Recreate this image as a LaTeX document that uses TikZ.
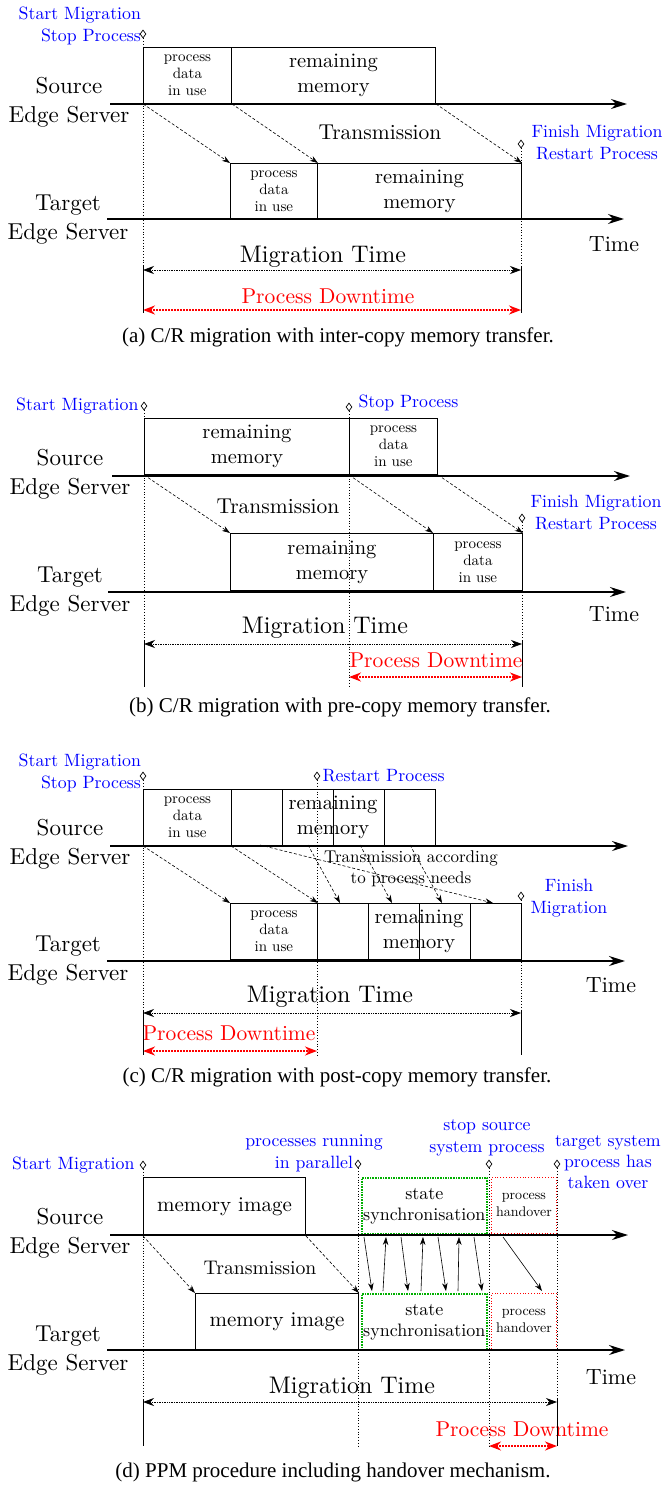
\documentclass[tikz,border=0pt]{standalone}
\usepackage{fontspec}
\setmainfont{lmroman10-regular.otf}
\newfontfamily\capfont{Liberation Serif}
\usetikzlibrary{arrows.meta,shapes.geometric}
\definecolor{syncgreen}{RGB}{0,175,0}
\tikzset{
  sz/.style 2 args={minimum width=#1, minimum height=#2},
  box/.style={draw, line width=0.9pt, inner sep=0pt, anchor=north west, align=center},
  big/.style={font=\fontsize{20.5}{25}\selectfont},
  small/.style={font=\fontsize{15}{17}\selectfont},
  srv/.style={font=\fontsize{23}{29}\selectfont, align=center},
  evt/.style={text=blue, font=\fontsize{17.8}{22}\selectfont},
  dmd/.style={diamond, draw, line width=0.7pt, inner sep=0pt, minimum width=6pt, minimum height=8pt},
  axis/.style={line width=1.4pt, -{Stealth[length=16pt,width=10pt]}},
  tx/.style={densely dashed, line width=0.6pt, -{Stealth[length=8pt,width=5.5pt]}},
  sx/.style={line width=0.6pt, -{Stealth[length=8pt,width=5.5pt]}},
  vdot/.style={dotted, line width=0.8pt},
  vsolid/.style={line width=0.8pt},
  mig/.style={densely dotted, line width=0.7pt, {Stealth[length=11pt,width=8pt]}-{Stealth[length=11pt,width=8pt]}},
  dwn/.style={red, densely dotted, line width=2pt, {Stealth[length=12pt,width=9pt]}-{Stealth[length=12pt,width=9pt]}},
  trans/.style={font=\fontsize{21.5}{26}\selectfont},
  timel/.style={font=\fontsize{22}{26}\selectfont},
  migl/.style={font=\fontsize{24}{28}\selectfont},
  dtl/.style={text=red, font=\fontsize{21.5}{25}\selectfont},
  capt/.style={font=\capfont\fontsize{21}{25}\selectfont},
  syncbox/.style={draw=syncgreen, densely dotted, line width=1.6pt, inner sep=0pt, anchor=north west, align=center, font=\fontsize{18}{21}\selectfont},
  hobox/.style={draw=red, dotted, line width=0.8pt, inner sep=0pt, anchor=north west, align=center, font=\fontsize{14}{17}\selectfont},
}
\begin{document}
\begin{tikzpicture}[x=1pt,y=-1pt]
\useasboundingbox (0,0) rectangle (668,1485);
% ================= (a) =================
\node[srv] (a-src) at (69,102.5) {Source\\Edge Server};
\node[srv] (a-tgt) at (68,219.5) {Target\\Edge Server};
\coordinate (a-s0) at (110,104); \coordinate (a-s1) at (627,104);
\coordinate (a-t0) at (107,219); \coordinate (a-t1) at (624,219);
\node[box, small, sz={88}{56}] (a-sp) at (143,47) {process\\data\\in use};
\node[box, big, sz={204}{56}] (a-sr) at (231,47) {remaining\\memory};
\node[box, small, sz={87}{56}] (a-tp) at (230,163) {process\\data\\in use};
\node[box, big, sz={204}{56}] (a-tr) at (317,163) {remaining\\memory};
\draw[axis] (a-s0) -- (a-s1);
\draw[axis] (a-t0) -- (a-t1);
\draw[tx] (a-sp.south west) -- (a-tp.north west);
\draw[tx] (a-sp.south east) -- (a-tp.north east);
\draw[tx] (a-sr.south east) -- (a-tr.north east);
\node[trans] (a-tx) at (380,132) {Transmission};
\node[evt, align=right, anchor=east] (a-e1) at (144.5,26) {Start Migration\\Stop Process};
\node[dmd] (a-d1) at (143,34) {};
\node[dmd] (a-d2) at (521,144) {};
\node[evt, align=center] (a-e2) at (597,143) {Finish Migration\\Restart Process};
\node[timel] (a-time) at (614,244) {Time};
\node[migl] (a-mt) at (323,257) {Migration Time};
\coordinate (a-m0) at (143,270); \coordinate (a-m1) at (521,270);
\coordinate (a-v0) at (143,266); \coordinate (a-v1) at (521,266);
\draw[mig] (a-m0) -- (a-m1);
\node[dtl] (a-dt) at (328,296) {Process Downtime};
\coordinate (a-p0) at (143,310); \coordinate (a-p1) at (521,310);
\draw[dwn] (a-p0) -- (a-p1);
\coordinate (a-b0) at (143,313); \coordinate (a-b1) at (521,313);
\draw[vdot] (a-d1.south) -- (a-v0);
\draw[vsolid] (a-v0) -- (a-b0);
\draw[vdot] (a-d2.south) -- (a-v1);
\draw[vsolid] (a-v1) -- (a-b1);
\node[capt] (a-cap) at (338,337) {(a) C/R migration with inter-copy memory transfer.};
% ================= (b) =================
\node[srv] (b-src) at (70,474.5) {Source\\Edge Server};
\node[srv] (b-tgt) at (70,592) {Target\\Edge Server};
\coordinate (b-s0) at (112,476); \coordinate (b-s1) at (630,476);
\coordinate (b-t0) at (108,592); \coordinate (b-t1) at (626,592);
\node[box, big, sz={205}{56}] (b-sr) at (144,418) {remaining\\memory};
\node[box, small, sz={88}{56}] (b-sp) at (349,418) {process\\data\\in use};
\node[box, big, sz={203}{57}] (b-tr) at (230,533) {remaining\\memory};
\node[box, small, sz={89}{57}] (b-tp) at (433,533) {process\\data\\in use};
\draw[axis] (b-s0) -- (b-s1);
\draw[axis] (b-t0) -- (b-t1);
\draw[tx] (b-sr.south west) -- (b-tr.north west);
\draw[tx] (b-sp.south west) -- (b-tp.north west);
\draw[tx] (b-sp.south east) -- (b-tp.north east);
\node[trans] (b-tx) at (278,506) {Transmission};
\node[evt, anchor=east] (b-e1) at (142,406) {Start Migration};
\node[dmd] (b-d1) at (144,406) {};
\node[dmd] (b-d2) at (349,407) {};
\node[evt, anchor=west] (b-e2) at (355,403) {Stop Process};
\node[dmd] (b-d3) at (522,518) {};
\node[evt, align=center] (b-e3) at (596,513) {Finish Migration\\Restart Process};
\node[timel] (b-time) at (614,614) {Time};
\node[migl] (b-mt) at (325,628) {Migration Time};
\coordinate (b-m0) at (144,644); \coordinate (b-m1) at (522,644);
\coordinate (b-v0) at (144,641); \coordinate (b-v1) at (522,641);
\draw[mig] (b-m0) -- (b-m1);
\node[dtl] (b-dt) at (436,660) {Process Downtime};
\coordinate (b-p0) at (349,677); \coordinate (b-p1) at (522,677);
\draw[dwn] (b-p0) -- (b-p1);
\coordinate (b-b0) at (144,687); \coordinate (b-b1) at (522,687); \coordinate (b-b2) at (349,687);
\draw[vdot] (b-d1.south) -- (b-v0);
\draw[vsolid] (b-v0) -- (b-b0);
\draw[vdot] (b-d3.south) -- (b-v1);
\draw[vsolid] (b-v1) -- (b-b1);
\draw[vdot] (b-d2.south) -- (b-b2);
\node[capt] (b-cap) at (340,707) {(b) C/R migration with pre-copy memory transfer.};
% ================= (c) =================
\node[srv] (c-src) at (70,844) {Source\\Edge Server};
\node[srv] (c-tgt) at (68,961) {Target\\Edge Server};
\coordinate (c-s0) at (110,846); \coordinate (c-s1) at (628,846);
\coordinate (c-t0) at (107,961); \coordinate (c-t1) at (625,961);
\node[box, small, sz={88}{56}] (c-sp) at (143,789) {process\\data\\in use};
\node[box, sz={51}{56}] (c-s2) at (231,789) {};
\node[box, sz={51}{56}] (c-s3) at (282,789) {};
\node[box, sz={51}{56}] (c-s4) at (333,789) {};
\node[box, sz={51}{56}] (c-s5) at (384,789) {};
\node[big, align=center] (c-srm) at (333,817) {remaining\\memory};
\node[box, small, sz={87}{56}] (c-tp) at (230,903) {process\\data\\in use};
\node[box, sz={51}{56}] (c-t2) at (317,903) {};
\node[box, sz={51}{56}] (c-t3) at (368,903) {};
\node[box, sz={51}{56}] (c-t4) at (419,903) {};
\node[box, sz={51}{56}] (c-t5) at (470,903) {};
\node[big, align=center] (c-trm) at (419,931) {remaining\\memory};
\draw[axis] (c-s0) -- (c-s1);
\draw[axis] (c-t0) -- (c-t1);
\coordinate (c-f1) at (260,845); \coordinate (c-g1) at (493,903);
\coordinate (c-f2) at (308,845); \coordinate (c-g2) at (340,903);
\coordinate (c-f3) at (360,845); \coordinate (c-g3) at (392,903);
\coordinate (c-f4) at (410,845); \coordinate (c-g4) at (442,903);
\draw[tx] (c-sp.south west) -- (c-tp.north west);
\draw[tx] (c-s2.south west) -- (c-tp.north east);
\draw[tx] (c-f1) -- (c-g1);
\draw[tx] (c-f2) -- (c-g2);
\draw[tx] (c-f3) -- (c-g3);
\draw[tx] (c-f4) -- (c-g4);
\node[align=center, font=\fontsize{17}{21}\selectfont] (c-tx) at (411,869) {Transmission according\\to process needs};
\node[evt, align=right, anchor=east] (c-e1) at (144.5,773) {Start Migration\\Stop Process};
\node[dmd] (c-d1) at (143,776) {};
\node[dmd] (c-d2) at (317,776) {};
\node[evt, anchor=west] (c-e2) at (319,776) {Restart Process};
\node[dmd] (c-d3) at (521,896) {};
\node[evt, align=center] (c-e3) at (569,898) {Finish\\Migration};
\node[timel] (c-time) at (611,985) {Time};
\node[migl] (c-mt) at (330,997) {Migration Time};
\coordinate (c-m0) at (143,1013); \coordinate (c-m1) at (521,1013);
\coordinate (c-v0) at (143,1010); \coordinate (c-v1) at (521,1010);
\draw[mig] (c-m0) -- (c-m1);
\node[dtl] (c-dt) at (229,1033) {Process Downtime};
\coordinate (c-p0) at (143,1051); \coordinate (c-p1) at (317,1051);
\draw[dwn] (c-p0) -- (c-p1);
\coordinate (c-b0) at (143,1055); \coordinate (c-b1) at (521,1055); \coordinate (c-b2) at (317,1055);
\draw[vdot] (c-d1.south) -- (c-v0);
\draw[vsolid] (c-v0) -- (c-b0);
\draw[vdot] (c-d3.south) -- (c-v1);
\draw[vsolid] (c-v1) -- (c-b1);
\draw[vdot] (c-d2.south) -- (c-b2);
\node[capt] (c-cap) at (337,1077) {(c) C/R migration with post-copy memory transfer.};
% ================= (d) =================
\node[srv] (d-src) at (70,1233) {Source\\Edge Server};
\node[srv] (d-tgt) at (68,1351) {Target\\Edge Server};
\coordinate (d-s0) at (110,1235); \coordinate (d-s1) at (628,1235);
\coordinate (d-t0) at (107,1350); \coordinate (d-t1) at (625,1350);
\node[box, font=\fontsize{21}{25}\selectfont, sz={162}{58}] (d-sm) at (143,1177) {memory image};
\node[syncbox, sz={125}{56}] (d-ss) at (361,1177) {state\\synchronisation};
\node[hobox, sz={65}{56}] (d-sh) at (491,1177) {process\\handover};
\node[box, font=\fontsize{21}{25}\selectfont, sz={163}{57}] (d-tm) at (195,1293) {memory image};
\node[syncbox, sz={125}{56}] (d-ts) at (361,1293) {state\\synchronisation};
\node[hobox, sz={65}{56}] (d-th) at (491,1293) {process\\handover};
\draw[axis] (d-s0) -- (d-s1);
\draw[axis] (d-t0) -- (d-t1);
\draw[tx] (d-sm.south west) -- (d-tm.north west);
\draw[tx] (d-sm.south east) -- (d-tm.north east);
\coordinate (d-a1) at (364,1237); \coordinate (d-a2) at (372,1291);
\coordinate (d-a3) at (386,1237); \coordinate (d-a4) at (383,1291);
\coordinate (d-a5) at (401,1237); \coordinate (d-a6) at (408,1291);
\coordinate (d-a7) at (423,1237); \coordinate (d-a8) at (421,1291);
\coordinate (d-a9) at (438,1237); \coordinate (d-a10) at (446,1291);
\coordinate (d-a11) at (459,1237); \coordinate (d-a12) at (458,1291);
\coordinate (d-a13) at (474,1237); \coordinate (d-a14) at (482,1291);
\coordinate (d-h1) at (503,1237); \coordinate (d-h2) at (542,1291);
\draw[sx] (d-a1) -- (d-a2);
\draw[sx] (d-a4) -- (d-a3);
\draw[sx] (d-a5) -- (d-a6);
\draw[sx] (d-a8) -- (d-a7);
\draw[sx] (d-a9) -- (d-a10);
\draw[sx] (d-a12) -- (d-a11);
\draw[sx] (d-a13) -- (d-a14);
\draw[sx] (d-h1) -- (d-h2);
\node[font=\fontsize{19.7}{24}\selectfont] (d-tx) at (260,1268) {Transmission};
\node[evt, anchor=east] (d-e1) at (138,1165) {Start Migration};
\node[dmd] (d-d1) at (143,1165) {};
\node[evt, align=center] (d-e2) at (314,1153) {processes running\\in parallel};
\node[dmd] (d-d2) at (358,1164) {};
\node[evt, align=center] (d-e3) at (487,1138) {stop source\\system process};
\node[dmd] (d-d3) at (489,1164) {};
\node[evt, align=center, font=\fontsize{17.8}{21}\selectfont] (d-e4) at (608,1162) {target system\\process has\\taken over};
\node[dmd] (d-d4) at (557,1164) {};
\node[timel] (d-time) at (611,1377) {Time};
\node[migl] (d-mt) at (352,1388) {Migration Time};
\coordinate (d-m0) at (143,1402); \coordinate (d-m1) at (557,1402);
\coordinate (d-v0) at (143,1399); \coordinate (d-v1) at (557,1399);
\draw[mig] (d-m0) -- (d-m1);
\node[dtl] (d-dt) at (522,1429) {Process Downtime};
\coordinate (d-p0) at (489,1446); \coordinate (d-p1) at (557,1446);
\draw[dwn] (d-p0) -- (d-p1);
\coordinate (d-b0) at (143,1446); \coordinate (d-b1) at (557,1446);
\coordinate (d-b2) at (358,1446); \coordinate (d-b3) at (489,1446);
\draw[vdot] (d-d1.south) -- (d-v0);
\draw[vsolid] (d-v0) -- (d-b0);
\draw[vdot] (d-d4.south) -- (d-v1);
\draw[vsolid] (d-v1) -- (d-b1);
\draw[vdot] (d-d2.south) -- (d-b2);
\draw[vdot] (d-d3.south) -- (d-b3);
\node[capt] (d-cap) at (333,1472) {(d) PPM procedure including handover mechanism.};
\end{tikzpicture}
\end{document}
